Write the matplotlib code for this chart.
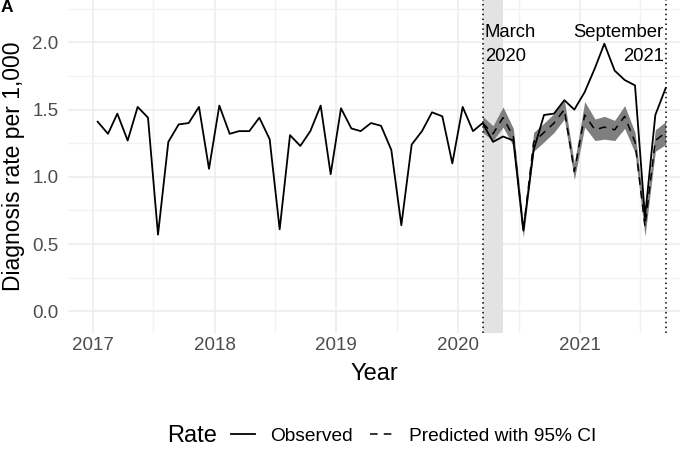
import matplotlib
matplotlib.use("Agg")
import matplotlib.pyplot as plt
import matplotlib.dates as mdates
from matplotlib.lines import Line2D
import pandas as pd

plt.rcParams['font.family'] = ['Liberation Sans', 'DejaVu Sans']

# ---- data (monthly, Jan 2017 - Sep 2021) ----
observed = [1.41, 1.32, 1.47, 1.27, 1.52, 1.44, 0.57, 1.26, 1.39, 1.40, 1.52, 1.06,
            1.53, 1.32, 1.34, 1.34, 1.44, 1.28, 0.61, 1.31, 1.23, 1.34, 1.53, 1.02,
            1.51, 1.36, 1.34, 1.40, 1.38, 1.20, 0.64, 1.24, 1.34, 1.48, 1.45, 1.10,
            1.52, 1.34, 1.40, 1.26, 1.30, 1.27, 0.60, 1.20, 1.46, 1.47, 1.57, 1.50,
            1.63, 1.81, 1.99, 1.79, 1.72, 1.68, 0.70, 1.46, 1.66]
# predicted Mar 2020 - Sep 2021
predicted = [1.40, 1.32, 1.44, 1.30, 0.60, 1.26, 1.33, 1.40, 1.50, 1.04,
             1.46, 1.35, 1.37, 1.35, 1.45, 1.26, 0.63, 1.27, 1.33]
pred_lo = [1.33, 1.27, 1.37, 1.23, 0.55, 1.19, 1.26, 1.33, 1.43, 0.98,
           1.37, 1.27, 1.28, 1.27, 1.36, 1.18, 0.56, 1.19, 1.24]
pred_hi = [1.45, 1.38, 1.52, 1.36, 0.65, 1.33, 1.40, 1.47, 1.57, 1.10,
           1.56, 1.43, 1.45, 1.42, 1.53, 1.33, 0.70, 1.35, 1.41]
start_month = '2017-01-01'
end_month = '2021-09-01'
pred_start = '2020-03-01'
event1 = '2020-03-15'
event2 = '2021-09-15'
shade_end = '2020-05-14'
ann1 = 'March\n2020'
ann2 = 'September\n2021'

dates = pd.date_range(start_month, end_month, freq='MS') + pd.Timedelta(days=14)
pdates = pd.date_range(pred_start, end_month, freq='MS') + pd.Timedelta(days=14)

fig = plt.figure(figsize=(6.8, 4.53), dpi=100)
ax = fig.add_axes([68/680, 1-333/453, 612/680, 333/453])

ax.axvspan(pd.Timestamp(event1), pd.Timestamp(shade_end), color='#E3E3E3', lw=0, zorder=1)
ax.fill_between(pdates, pred_lo, pred_hi, color='#7F7F7F', lw=0, zorder=2)
ax.plot(pdates, predicted, color='black', lw=1.1, dashes=(5, 4), zorder=3)
ax.plot(dates, observed, color='black', lw=1.3, zorder=4)
for ev in (event1, event2):
    ax.axvline(pd.Timestamp(ev), color='black', lw=1.1, ls=(0, (1, 2.2)), zorder=5)

ax.annotate(ann1, xy=(pd.Timestamp(event1), 1), xycoords=('data', 'axes fraction'),
            xytext=(1.5, -17), textcoords='offset points', ha='left', va='top',
            fontsize=13.3, linespacing=1.58, zorder=6)
ax.annotate(ann2, xy=(pd.Timestamp(event2), 1), xycoords=('data', 'axes fraction'),
            xytext=(-1.5, -17), textcoords='offset points', ha='right', va='top',
            fontsize=13.3, linespacing=1.58, zorder=6)

ax.set_xlim(pd.Timestamp('2016-10-18'), pd.Timestamp('2021-10-28'))
ax.set_ylim(-0.161, 2.315)
ax.xaxis.set_major_locator(mdates.YearLocator())
ax.xaxis.set_major_formatter(mdates.DateFormatter('%Y'))
ax.xaxis.set_minor_locator(mdates.MonthLocator(bymonth=7))
ax.set_yticks([0.0, 0.5, 1.0, 1.5, 2.0])
ax.set_yticklabels(['0.0', '0.5', '1.0', '1.5', '2.0'])
ax.set_yticks([0.25, 0.75, 1.25, 1.75, 2.25], minor=True)

ax.grid(which='major', color='#EBEBEB', lw=1.1, zorder=0)
ax.grid(which='minor', color='#F2F2F2', lw=1.0, zorder=0)
ax.set_axisbelow(True)
for s in ax.spines.values():
    s.set_visible(False)
ax.tick_params(which='both', length=0)
ax.tick_params(axis='both', labelsize=13.5, labelcolor='#4D4D4D')
ax.tick_params(axis='y', pad=7)
ax.tick_params(axis='x', pad=3)

ax.set_xlabel('Year', fontsize=17, labelpad=6)
ax.set_ylabel('Diagnosis rate per 1,000', fontsize=16.5, labelpad=5)

fig.text(0.001, 0.999, 'A', fontsize=12.5, fontweight='bold', ha='left', va='top')

fig.text(167/680, 1-436/453, 'Rate', fontsize=17, ha='left', va='center')
handles = [Line2D([], [], color='black', lw=1.3),
           Line2D([], [], color='black', lw=1.1, dashes=(5, 4))]
fig.legend(handles, ['Observed', 'Predicted with 95% CI'], loc='center left',
           bbox_to_anchor=(231/680, 1-436/453), ncol=2, frameon=False,
           fontsize=13.8, handlelength=1.25, handletextpad=0.8, columnspacing=0.9,
           borderpad=0, borderaxespad=0)

fig.savefig('out.png', dpi=100)
